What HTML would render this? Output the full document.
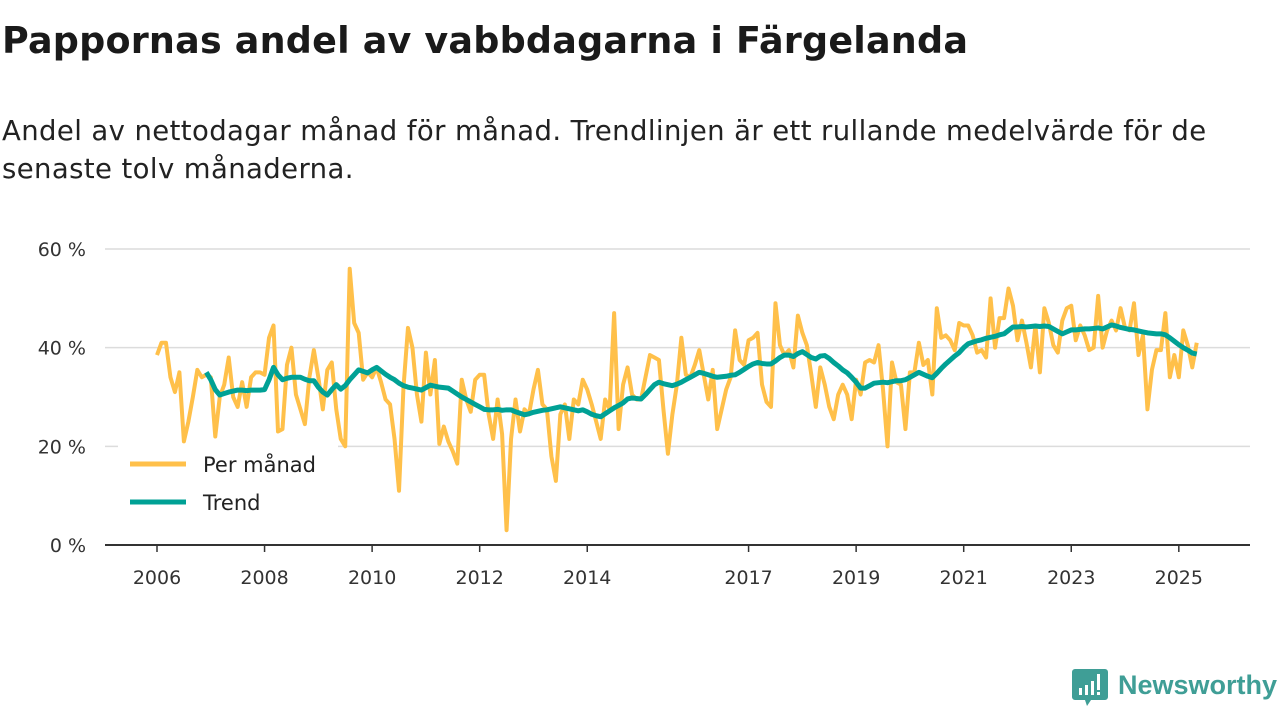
<!DOCTYPE html>
<html><head><meta charset="utf-8">
<style>
body{margin:0;width:1280px;height:720px;background:#fff;font-family:"DejaVu Sans","Liberation Sans",sans-serif;overflow:hidden;position:relative}
h1{position:absolute;left:2px;top:19px;margin:0;font-size:36.5px;font-weight:bold;color:#1a1a1a;letter-spacing:0.2px}
.sub{position:absolute;left:2px;top:112px;margin:0;font-size:27.5px;line-height:38px;color:#222;width:1240px;letter-spacing:0.4px}
svg{position:absolute;left:0;top:0}
</style></head><body>
<h1>Pappornas andel av vabbdagarna i Färgelanda</h1>
<p class="sub">Andel av nettodagar månad för månad. Trendlinjen är ett rullande medelvärde för de senaste tolv månaderna.</p>
<svg id="chart" width="1280" height="720"></svg>
<script>
const yTicks=[0,20,40,60];
const yTickLabels=["0 %","20 %","40 %","60 %"];
const xTickYears=[2006,2008,2010,2012,2014,2017,2019,2021,2023,2025];
const monthly=[
38.5,41,41,34,31,35,21,25,30,35.5,34,34.5,
34,22,30,32.5,38,30,28,33,28,34,35,35,
34.5,42,44.5,23,23.5,36.5,40,30.5,27.5,24.5,34,39.5,
34,27.5,35.5,37,27.5,21.5,20,56,45,43,33.5,35,
34,36,33,29.5,28.5,21.5,11,32,44,40,30.5,25,
39,30.5,37.5,20.5,24,21,19,16.5,33.5,29.5,27,33.5,
34.5,34.5,26.5,21.5,29.5,22.5,3,21.5,29.5,23,27.5,26.5,
31.5,35.5,28.5,27.5,18,13,26.5,28.5,21.5,29.5,28.5,33.5,
31.5,28.5,25,21.5,29.5,27.5,47,23.5,32.5,36,30.5,29.5,
29.5,34,38.5,38,37.5,27.5,18.5,26.5,32.5,42,34.5,34,
36.5,39.5,34.5,29.5,35.5,23.5,27.5,31.5,34,43.5,37.5,36.5,
41.5,42,43,32.5,29,28,49,40.5,38.5,39.5,36,46.5,
43,40.5,34.5,28,36,32.5,28,25.5,30.5,32.5,30.5,25.5,
33.5,30.5,37,37.5,37,40.5,31.5,20,37,33,32.5,23.5,
35,35,41,36.5,37.5,30.5,48,42,42.5,41.5,39.5,45,
44.5,44.5,42.5,39,39.5,38,50,40,46,46,52,48.5,
41.5,45.5,41,36,44.5,35,48,45,40.5,39,45.5,48,
48.5,41.5,44.5,42.5,39.5,40,50.5,40,43.5,45.5,43.5,48,
44,43.5,49,38.5,42.5,27.5,35.5,39.5,39.5,47,34,38.5,
34,43.5,40.5,36,41];
const trendStart=11;
const trend=[
35,33.5,31.5,30.4,30.7,31,31.2,31.4,31.4,31.3,31.4,31.4,31.4,31.5,33.5,36,34.5,33.5,33.8,34,34,34,33.6,33.3,33.3,32,31,30.4,31.5,32.5,31.6,32.3,33.5,34.5,35.5,35.2,34.9,35.5,36,35.3,34.6,34,33.5,32.8,32.3,32,31.8,31.6,31.4,31.9,32.4,32.2,32,31.9,31.8,31.2,30.6,30,29.5,29,28.5,28,27.5,27.4,27.4,27.5,27.3,27.4,27.4,27,26.7,26.4,26.6,26.9,27.1,27.3,27.4,27.6,27.8,28,27.8,27.6,27.4,27.2,27.4,27,26.5,26.2,26,26.6,27.2,27.8,28.3,28.8,29.6,29.8,29.7,29.6,30.5,31.5,32.5,33,32.7,32.5,32.3,32.6,33,33.5,34,34.5,35,34.8,34.5,34.2,34,34.1,34.2,34.4,34.5,35,35.6,36.2,36.7,37,36.8,36.7,36.7,37.3,38,38.5,38.5,38.2,38.8,39.2,38.6,38,37.7,38.3,38.4,37.8,37,36.3,35.5,34.9,34,33,31.8,31.8,32.3,32.8,32.9,33,32.9,33.1,33.3,33.3,33.5,34,34.5,35,34.6,34.2,33.9,34.8,35.8,36.7,37.5,38.3,39,40,40.8,41.1,41.4,41.6,41.9,42.1,42.3,42.6,42.8,43.5,44.2,44.2,44.3,44.2,44.3,44.4,44.3,44.4,44.3,43.8,43.3,42.8,43.2,43.6,43.6,43.7,43.8,43.8,43.9,44,43.8,44.2,44.6,44.4,44.1,43.9,43.7,43.6,43.4,43.2,43,42.9,42.8,42.8,42.6,42,41.3,40.6,40,39.5,38.9,38.7];

const NS="http://www.w3.org/2000/svg";
const svg=document.getElementById('chart');
const x0=157,pxYear=53.78;
const FONT='DejaVu Sans, Liberation Sans, sans-serif';
function xScale(m){return x0+m*pxYear/12;}
function xYear(y){return x0+(y-2006)*pxYear;}
function yScale(v){return 545-v*(296/60);}
function el(t,a,p){const e=document.createElementNS(NS,t);for(const k in a)e.setAttribute(k,a[k]);(p||svg).appendChild(e);return e;}

yTicks.forEach((v,i)=>{
  if(v>0){const g=el('line',{x1:105,x2:1250,y1:yScale(v),y2:yScale(v),stroke:'#dcdcdc','stroke-width':1.5});
  
  }
  const t=el('text',{x:86,y:yScale(v)+7,'text-anchor':'end','font-size':19,fill:'#333','font-family':FONT});
  t.textContent=yTickLabels[i];
  
  
});
const ax=el('line',{x1:105,x2:1250,y1:545,y2:545,stroke:'#333','stroke-width':2});


xTickYears.forEach(yr=>{
  const x=xYear(yr);
  const tk=el('line',{x1:x,x2:x,y1:545,y2:552,stroke:'#333','stroke-width':1.5});
  
  
  const t=el('text',{x:x,y:584,'text-anchor':'middle','font-size':19,fill:'#333','font-family':FONT});
  t.textContent=yr;
  
  
});
const pm=el('polyline',{points:monthly.map((v,i)=>xScale(i)+','+yScale(v)).join(' '),fill:'none',stroke:'#FFC04A','stroke-width':4,'stroke-linejoin':'round'});


const tr=el('polyline',{points:trend.map((v,i)=>xScale(i+trendStart)+','+yScale(v)).join(' '),fill:'none',stroke:'#00A195','stroke-width':5,'stroke-linejoin':'round'});



const lg=el('g',{});


el('rect',{x:118,y:445,width:220,height:78,fill:'#fff'},lg);
[['Per månad','#FFC04A',464],['Trend','#00A195',502]].forEach(([n,c,y])=>{
  const l=el('line',{x1:130,x2:186,y1:y,y2:y,stroke:c,'stroke-width':5},lg);
  
  
  const t=el('text',{x:203,y:y+8,'font-size':21,fill:'#222','font-family':FONT},lg);
  t.textContent=n;
  
  
});

const logo=el('g',{});


el('path',{d:'M1075 669 h30 a3 3 0 0 1 3 3 v25 a3 3 0 0 1 -3 3 h-14 l-4 6 l-2 -6 h-10 a3 3 0 0 1 -3 -3 v-25 a3 3 0 0 1 3 -3z',fill:'#3f9e96'},logo);
el('rect',{x:1079,y:688,width:3,height:7,fill:'#fff'},logo);
el('rect',{x:1085,y:685,width:3,height:10,fill:'#fff'},logo);
el('rect',{x:1091,y:681,width:3,height:14,fill:'#fff'},logo);
el('rect',{x:1097,y:674,width:3,height:16,fill:'#fff'},logo);
el('rect',{x:1097,y:692,width:3,height:3,fill:'#fff'},logo);
const lt=el('text',{x:1118,y:694,'font-size':27,'font-weight':'bold',fill:'#3f9e96','font-family':'Liberation Sans, sans-serif'},logo);
lt.textContent='Newsworthy';
</script>
</body></html>
